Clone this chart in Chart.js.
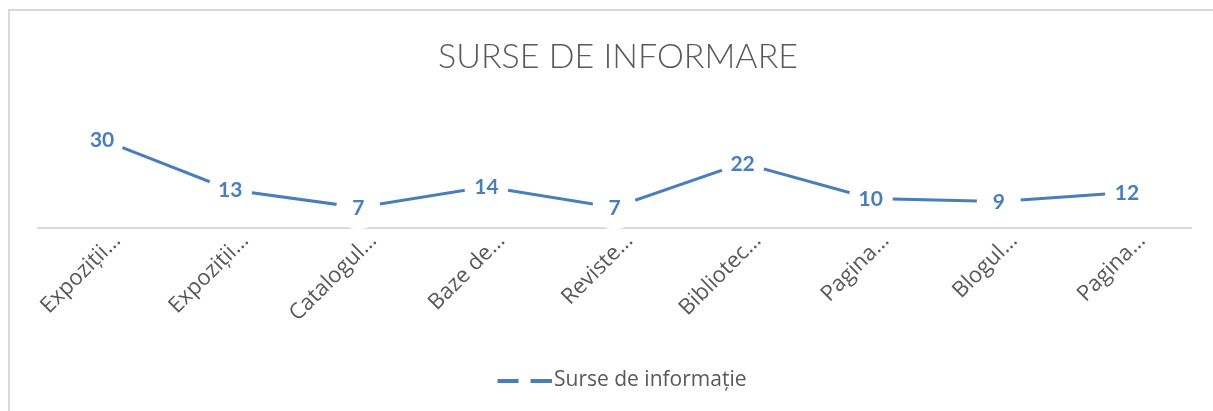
<!DOCTYPE html>
<html>
<head>
<meta charset="utf-8">
<script src="https://cdn.jsdelivr.net/npm/chart.js@4/dist/chart.umd.min.js"></script>
<style>
  html, body { margin: 0; padding: 0; background: #fff; overflow: hidden; }
  .frame { position: absolute; left: 8px; top: 9px; width: 1400px; height: 600px;
           border-left: 2px solid #d9d9d9; border-top: 2px solid #d9d9d9; }
  .wrap { position: absolute; left: 0; top: 0; width: 1213px; height: 411px; }
</style>
</head>
<body>
<div class="frame"></div>
<div class="wrap"><canvas id="chart"></canvas></div>
<script>
const categories = ['Expoziții…', 'Expoziții…', 'Catalogul…', 'Baze de…', 'Reviste…', 'Bibliotec…', 'Pagina…', 'Blogul…', 'Pagina…'];
const valori = [30, 13, 7, 14, 7, 22, 10, 9, 12];
const serieNume = 'Surse de informație';
const titlu = 'SURSE DE INFORMARE';

const albastru = '#4a7ebb';
const gri = '#595959';

// marker pentru legenda: linie cu gol la mijloc (ca in Excel)
const legendMarker = document.createElement('canvas');
legendMarker.width = 70;
legendMarker.height = 4;
const lctx = legendMarker.getContext('2d');
lctx.fillStyle = albastru;
lctx.fillRect(16, 0, 21, 4);
lctx.fillRect(49, 0, 21, 4);

// etichete de date centrate pe puncte
const dataLabels = {
    id: 'dataLabels',
    afterDatasetsDraw(chart) {
        const ctx = chart.ctx;
        const meta = chart.getDatasetMeta(0);
        ctx.save();
        ctx.font = 'bold 21px Lato';
        ctx.fillStyle = albastru;
        ctx.textAlign = 'center';
        ctx.textBaseline = 'middle';
        meta.data.forEach((pt, i) => {
            ctx.fillText(chart.data.datasets[0].data[i], pt.x, pt.y + 1);
        });
        ctx.restore();
    }
};

const ctx = document.getElementById('chart').getContext('2d');

const chart = new Chart(ctx, {
    type: 'line',
    data: {
        labels: categories,
        datasets: [{
            label: serieNume,
            data: valori,
            borderColor: albastru,
            borderWidth: 3,
            tension: 0,
            pointRadius: 22,
            pointHoverRadius: 22,
            pointBackgroundColor: '#ffffff',
            pointBorderWidth: 0,
            pointStyle: 'circle',
            clip: false
        }]
    },
    options: {
        responsive: true,
        maintainAspectRatio: false,
        animation: false,
        events: [],
        layout: {
            padding: { left: 38, right: 15, top: 37, bottom: 10 }
        },
        plugins: {
            title: {
                display: true,
                text: titlu,
                color: gri,
                font: { family: 'Lato', size: 34, weight: '300' },
                padding: { top: 0, bottom: 47 }
            },
            legend: {
                display: true,
                position: 'bottom',
                labels: {
                    usePointStyle: true,
                    pointStyle: legendMarker,
                    pointStyleWidth: 54,
                    color: gri,
                    font: { family: 'Open Sans', size: 21 },
                    padding: 8,
                    generateLabels: (c) => [{
                        text: serieNume,
                        pointStyle: legendMarker,
                        fontColor: gri,
                        datasetIndex: 0,
                        lineWidth: 0,
                        strokeStyle: 'rgba(0,0,0,0)',
                        fillStyle: albastru
                    }]
                }
            },
            tooltip: { enabled: false }
        },
        scales: {
            x: {
                offset: true,
                grid: { display: false },
                border: { display: true, color: '#d9d9d9', width: 2 },
                ticks: {
                    autoSkip: false,
                    maxRotation: 45,
                    minRotation: 45,
                    labelOffset: 15,
                    padding: -8,
                    color: gri,
                    font: { family: 'Open Sans', size: 22 }
                },
                afterFit: (scale) => { scale.height = 134; }
            },
            y: {
                display: false,
                min: 0,
                max: 35
            }
        }
    },
    plugins: [dataLabels]
});
</script>
</body>
</html>
